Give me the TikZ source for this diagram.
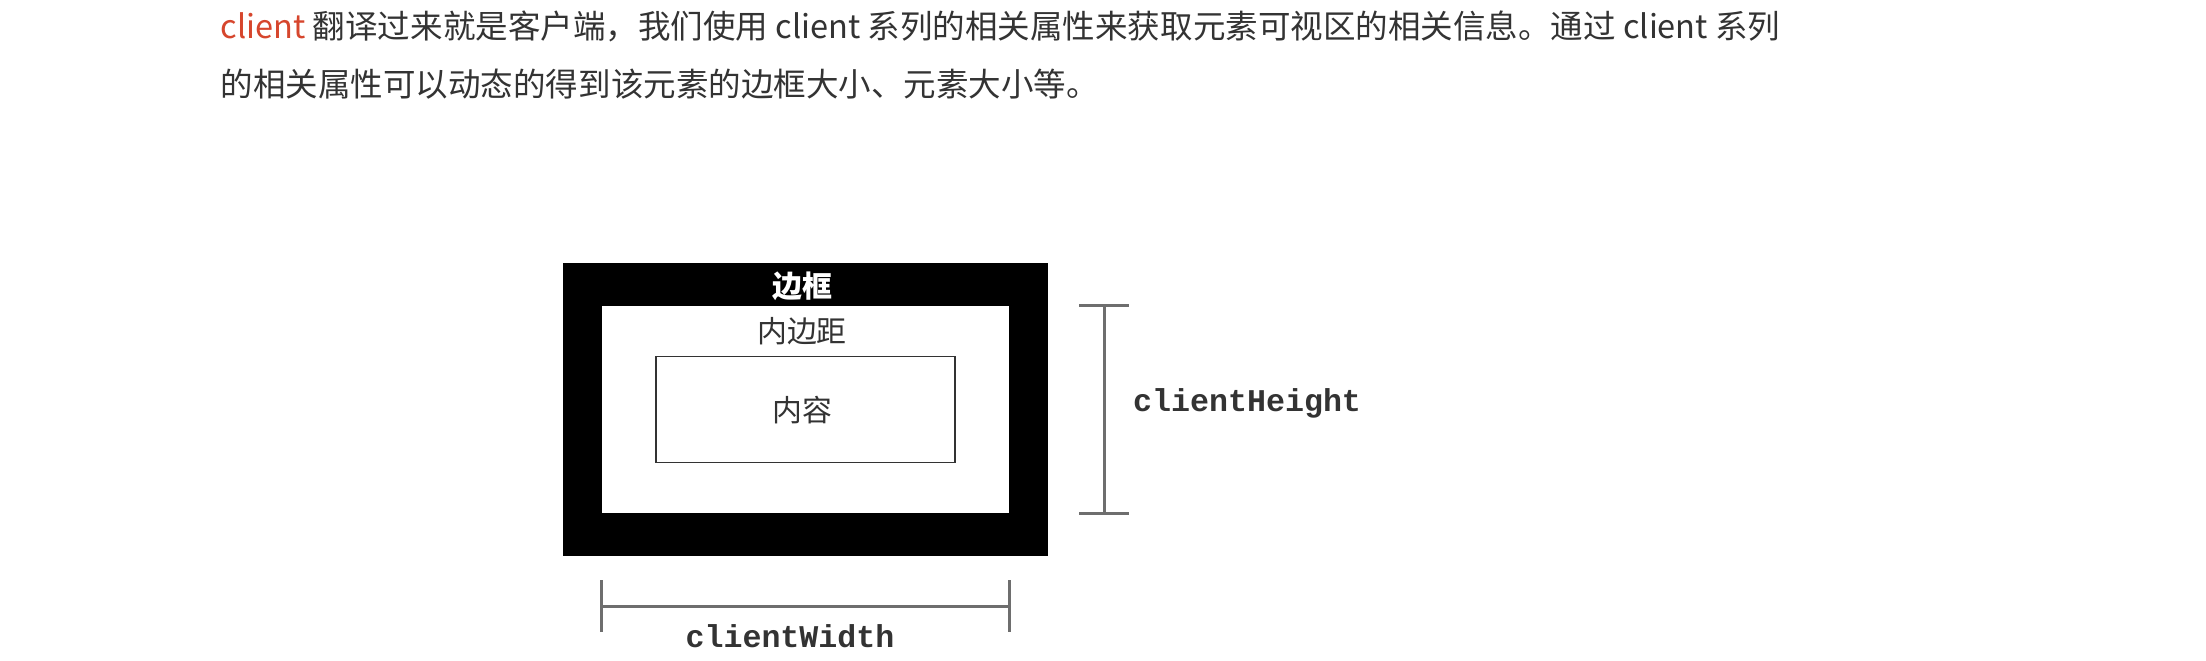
\documentclass[tikz,border=0pt]{standalone}
\usepackage{fontspec}
\setmonofont{Liberation Mono}
\newfontfamily\cjk{Noto Sans CJK SC}
\usepackage{tikz}
\usetikzlibrary{positioning,calc}
\definecolor{clientred}{RGB}{214,70,45}
\definecolor{textgray}{RGB}{51,51,51}
\definecolor{bargray}{RGB}{110,110,110}

\begin{document}
\begin{tikzpicture}[x=0.01cm,y=-0.01cm,
  toptext/.style={anchor=west,inner sep=0pt,text=textgray,font=\cjk\fontsize{9.25pt}{11pt}\selectfont},
  boxtext/.style={inner sep=0pt,text=textgray,font=\cjk\fontsize{8.5pt}{10pt}\selectfont},
  dimtext/.style={inner sep=0pt,text=textgray,font=\ttfamily\bfseries\fontsize{9pt}{10pt}\selectfont},
  dimbar/.style={draw=bargray,line width=0.8pt}]
  \useasboundingbox (0,0) rectangle (2206,660);

  %text
  \node[toptext] (line1) at (220,26) {\textcolor{clientred}{client} 翻译过来就是客户端，我们使用 client 系列的相关属性来获取元素可视区的相关信息。通过 client 系列};
  \node[toptext] (line2) at (220,84) {的相关属性可以动态的得到该元素的边框大小、元素大小等。};

  %box
  \node[fill=black,minimum width=4.85cm,minimum height=2.93cm,inner sep=0pt] (border) at (805.5,409.5) {};
  \node[fill=white,minimum width=4.06cm,minimum height=2.06cm,inner sep=0pt] (padding) at (border.center) {};
  \node[draw=black!80,line width=0.45pt,minimum width=2.99cm,minimum height=1.06cm,inner sep=0pt] (content) at (padding.center) {};
  \node[boxtext,text=white,font=\cjk\bfseries\fontsize{8.5pt}{10pt}\selectfont] (bordertext) at (802,286) {边框};
  \node[boxtext] (paddingtext) at (802,331) {内边距};
  \node[boxtext] (contenttext) at (802,410) {内容};

  %clientHeight
  \coordinate (ht) at ([xshift=0.95cm]padding.north east);
  \coordinate (hb) at ([xshift=0.95cm]padding.south east);
  \coordinate (hm) at ($(ht)!0.5!(hb)$);
  \draw[dimbar] (ht) -- (hb);
  \draw[dimbar] ([xshift=-0.25cm]ht) -- ([xshift=0.25cm]ht);
  \draw[dimbar] ([xshift=-0.25cm]hb) -- ([xshift=0.25cm]hb);
  \node[dimtext,anchor=west,right=0.28cm of hm,yshift=0.06cm] (heighttext) {clientHeight};

  %clientWidth
  \coordinate (wl) at ([yshift=-0.93cm]padding.south west);
  \coordinate (wr) at ([yshift=-0.93cm]padding.south east);
  \draw[dimbar] (wl) -- (wr);
  \draw[dimbar] ([yshift=0.26cm]wl) -- ([yshift=-0.26cm]wl);
  \draw[dimbar] ([yshift=0.26cm]wr) -- ([yshift=-0.26cm]wr);
  \node[dimtext] (widthtext) at (790,636) {clientWidth};
\end{tikzpicture}
\end{document}
